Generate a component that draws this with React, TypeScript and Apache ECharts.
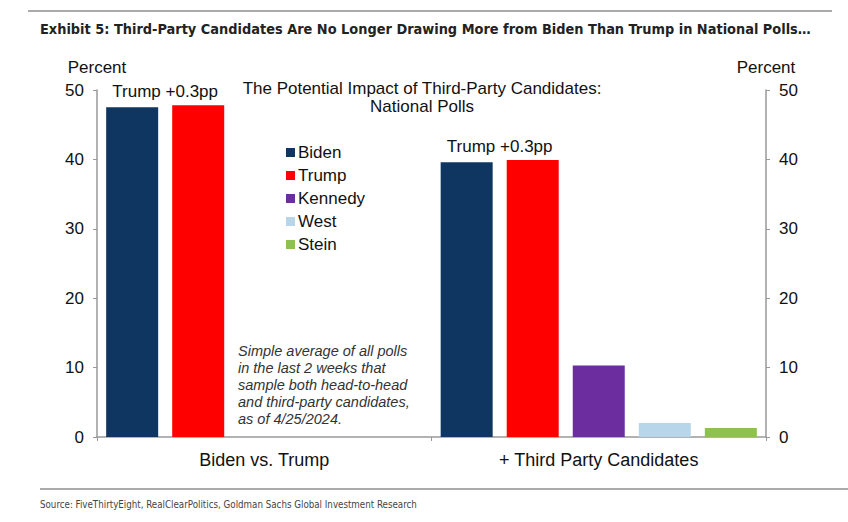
import React, { useEffect, useRef } from "react";
import * as echarts from "echarts";

const categories = ["Biden vs. Trump", "+ Third Party Candidates"];
const seriesNames = ["Biden", "Trump", "Kennedy", "West", "Stein"];
const biden = [47.5, 39.6];
const trump = [47.8, 39.9];
const kennedy = [null, 10.3];
const west = [null, 2.0];
const stein = [null, 1.3];
const leadLabels = ["Trump +0.3pp", "Trump +0.3pp"];
const yTicks = { min: 0, max: 50, interval: 10 };
const colors = ["#0E3660", "#FF0000", "#6C2E9E", "#B7D6EA", "#8DC150"];

const chartTitleLines = ["The Potential Impact of Third-Party Candidates:", "National Polls"];
const noteLines = [
  "Simple average of all polls",
  "in the last 2 weeks that",
  "sample both head-to-head",
  "and third-party candidates,",
  "as of 4/25/2024.",
];

const FONT = "Arial, 'Liberation Sans', sans-serif";
const NARROW = "'Liberation Sans Narrow', 'DejaVu Sans Condensed', 'Roboto Condensed', sans-serif";

export default function App() {
  const ref = useRef<HTMLDivElement>(null);
  useEffect(() => {
    if (!ref.current) return;
    const chart = echarts.init(ref.current, undefined, { renderer: "svg" });
    const allData = [biden, trump, kennedy, west, stein];
    const series = seriesNames.map((name, si) => ({
      name,
      type: "bar",
      barWidth: 52,
      barGap: "27%",
      itemStyle: { color: colors[si] },
      data: allData[si].map((v, ci) =>
        si === 0
          ? {
              value: v,
              label: {
                show: true,
                formatter: leadLabels[ci],
                position: "top",
                offset: [33, -2],
                color: "#111",
                fontSize: 17,
                fontFamily: FONT,
              },
            }
          : v
      ),
    }));
    const yAxisCommon = {
      type: "value",
      min: yTicks.min,
      max: yTicks.max,
      interval: yTicks.interval,
      name: "Percent",
      nameLocation: "end",
      nameGap: 14,
      nameTextStyle: { color: "#111", fontSize: 17, fontFamily: FONT },
      axisLine: { show: true, lineStyle: { color: "#999", width: 1.5 } },
      axisTick: { show: true, length: 4, lineStyle: { color: "#999" } },
      axisLabel: { color: "#111", fontSize: 17, fontFamily: FONT, margin: 13 },
      splitLine: { show: false },
    };
    chart.setOption({
      animation: false,
      backgroundColor: "#fff",
      grid: { left: 97, right: 82, top: 90, bottom: 85 },
      legend: {
        orient: "vertical",
        left: 281,
        top: 139,
        icon: "rect",
        itemWidth: 9,
        itemHeight: 9,
        itemGap: 6,
        textStyle: { color: "#111", fontSize: 17, lineHeight: 17, fontFamily: FONT, padding: [0, 0, 0, -2] },
        data: seriesNames,
      },
      xAxis: {
        type: "category",
        data: categories,
        axisLine: { lineStyle: { color: "#999", width: 1.5 } },
        axisTick: { show: true, length: 4, lineStyle: { color: "#999" } },
        axisLabel: { color: "#111", fontSize: 18, fontFamily: FONT, margin: 14 },
      },
      yAxis: [
        { ...yAxisCommon, position: "left" },
        { ...yAxisCommon, position: "right" },
      ],
      series,
      graphic: [
        {
          type: "line",
          shape: { x1: 28, y1: 11, x2: 832, y2: 11 },
          style: { stroke: "#aaa", lineWidth: 2 },
        },
        {
          type: "text",
          left: 40,
          top: 22,
          style: {
            text: "Exhibit 5: Third-Party Candidates Are No Longer Drawing More from Biden Than Trump in National Polls…",
            fontSize: 14.4,
            fontWeight: "bold",
            fontFamily: NARROW,
            fill: "#222",
          },
        },
        ...chartTitleLines.map((t, i) => ({
          type: "text",
          x: 422,
          y: 88.5 + i * 18,
          style: {
            text: t,
            fontSize: 17,
            fontFamily: FONT,
            fill: "#111",
            align: "center",
            verticalAlign: "middle",
          },
        })),
        {
          type: "text",
          x: 238,
          y: 342,
          style: {
            text: noteLines.join("\n"),
            fontSize: 14.5,
            lineHeight: 17,
            fontStyle: "italic",
            fontFamily: FONT,
            fill: "#333",
          },
        },
        {
          type: "line",
          shape: { x1: 40, y1: 489, x2: 848, y2: 489 },
          style: { stroke: "#aaa", lineWidth: 2 },
        },
        {
          type: "text",
          left: 40,
          top: 499,
          style: {
            text: "Source: FiveThirtyEight, RealClearPolitics, Goldman Sachs Global Investment Research",
            fontSize: 9.7,
            fontFamily: NARROW,
            fill: "#444",
          },
        },
      ],
    });
    return () => chart.dispose();
  }, []);
  return (
    <div
      ref={ref}
      style={{ position: "fixed", left: 0, top: 0, width: 848, height: 522, background: "#fff" }}
    />
  );
}
